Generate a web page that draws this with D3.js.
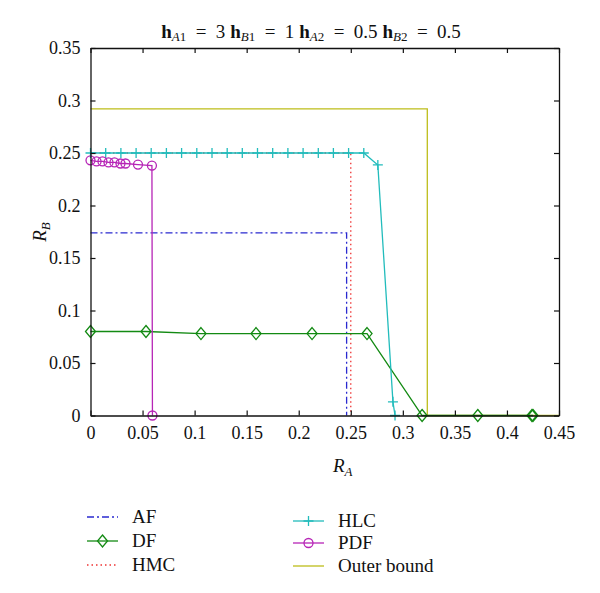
<!DOCTYPE html>
<html><head><meta charset="utf-8">
<script src="https://cdn.jsdelivr.net/npm/d3@7"></script>
<style>body{margin:0;background:#fff}svg text{font-family:"Liberation Serif","DejaVu Serif",serif !important;fill:#111}</style>
</head><body><svg id="c" width="600" height="593"></svg>
<script>
const xTicks=[0,0.05,0.1,0.15,0.2,0.25,0.3,0.35,0.4,0.45];
const yTicks=[0,0.05,0.1,0.15,0.2,0.25,0.3,0.35];
const xTickLabels=["0","0.05","0.1","0.15","0.2","0.25","0.3","0.35","0.4","0.45"];
const yTickLabels=["0","0.05","0.1","0.15","0.2","0.25","0.3","0.35"];
const afX=[0,0.246,0.246], afY=[0.174,0.174,0];
const dfX=[0,0.0533,0.1061,0.159,0.2128,0.2656,0.3185,0.372,0.424,0.425];
const dfY=[0.080,0.080,0.078,0.078,0.078,0.078,0,0,0,0];
const hmcX=[0,0.25,0.25], hmcY=[0.25,0.25,0];
const hlcX=[0,0.0146,0.0292,0.0438,0.0583,0.0729,0.0875,0.1021,0.1167,0.1313,0.1458,0.1604,0.175,0.1896,0.2042,0.2188,0.2333,0.2479,0.2625,0.276,0.2905,0.2925];
const hlcY=[0.25,0.25,0.25,0.25,0.25,0.25,0.25,0.25,0.25,0.25,0.25,0.25,0.25,0.25,0.25,0.25,0.25,0.25,0.25,0.2386,0.013,0];
const pdfX=[0,0.0058,0.0115,0.0173,0.023,0.0288,0.0336,0.0456,0.059,0.0595];
const pdfY=[0.243,0.242,0.242,0.241,0.241,0.240,0.240,0.239,0.238,0];
const obX=[0,0.3235,0.3235,0.45], obY=[0.292,0.292,0,0];

const svg=d3.select("#c");
const L=90.5,R=559,T=48,B=415.5;
const x=d3.scaleLinear().domain([0,0.45]).range([L,R]);
const y=d3.scaleLinear().domain([0,0.35]).range([B,T]);
const zip=(a,b)=>a.map((v,i)=>[v,b[i]]);
const line=d3.line().x(d=>x(d[0])).y(d=>y(d[1]));

const series=[
 {name:"Outer bound",X:obX,Y:obY,color:"#bdbd1a",dash:null,marker:null},
 {name:"AF",X:afX,Y:afY,color:"#2a2ad0",dash:"7,3,2,3",marker:null},
 {name:"HMC",X:hmcX,Y:hmcY,color:"#ee3333",dash:"1.5,3",marker:null},
 {name:"DF",X:dfX,Y:dfY,color:"#138a13",dash:null,marker:"diamond"},
 {name:"HLC",X:hlcX,Y:hlcY,color:"#22bcbc",dash:null,marker:"plus"},
 {name:"PDF",X:pdfX,Y:pdfY,color:"#b625b6",dash:null,marker:"circle"}
];

function drawMarker(g,type,cx,cy,color){
  if(type==="diamond") g.append("path").attr("d",`M${cx},${cy-6}L${cx+5},${cy}L${cx},${cy+6}L${cx-5},${cy}Z`).attr("fill","none").attr("stroke",color).attr("stroke-width",1.3);
  else if(type==="plus") g.append("path").attr("d",`M${cx-5},${cy}H${cx+5}M${cx},${cy-5}V${cy+5}`).attr("stroke",color).attr("stroke-width",1.3);
  else if(type==="circle") g.append("circle").attr("cx",cx).attr("cy",cy).attr("r",4.5).attr("fill","none").attr("stroke",color).attr("stroke-width",1.3);
}

const plot=svg.append("g");
series.forEach(s=>{
  const pts=zip(s.X,s.Y);
  plot.append("path").attr("d",line(pts)).attr("fill","none").attr("stroke",s.color).attr("stroke-width",1.3).attr("stroke-dasharray",s.dash);
  if(s.marker) pts.forEach(p=>drawMarker(plot,s.marker,x(p[0]),y(p[1]),s.color));
});

// axes
const ax=svg.append("g");
ax.append("g").attr("transform",`translate(0,${B})`).call(d3.axisBottom(x).tickValues(xTicks).tickFormat((d,i)=>xTickLabels[i]).tickSizeInner(-5).tickSizeOuter(0).tickPadding(11));
ax.append("g").attr("transform",`translate(0,${T})`).call(d3.axisTop(x).tickValues(xTicks).tickFormat("").tickSizeInner(-5).tickSizeOuter(0));
ax.append("g").attr("transform",`translate(${L},0)`).call(d3.axisLeft(y).tickValues(yTicks).tickFormat((d,i)=>yTickLabels[i]).tickSizeInner(-5).tickSizeOuter(0).tickPadding(10));
ax.append("g").attr("transform",`translate(${R},0)`).call(d3.axisRight(y).tickValues(yTicks).tickFormat("").tickSizeInner(-5).tickSizeOuter(0));
ax.selectAll("g").attr("font-family","Liberation Serif, serif").attr("font-size",18);
ax.selectAll(".domain").attr("stroke","#111").attr("stroke-width",1.3);
ax.selectAll(".tick line").attr("stroke","#111").attr("stroke-width",1.2);
ax.selectAll(".tick text").style("font-size","18px").attr("fill","#111");

// axis labels
const xl=svg.append("text").attr("x",333).attr("y",472).style("font-size","19px").attr("font-style","italic");
xl.append("tspan").text("R");
xl.append("tspan").style("font-size","13px").attr("dy",4).text("A");
const yl=svg.append("text").attr("transform","translate(46,232) rotate(-90)").style("font-size","19px").attr("font-style","italic").attr("text-anchor","middle");
yl.append("tspan").text("R");
yl.append("tspan").style("font-size","13px").attr("dy",4).text("B");

// title
const t=svg.append("text").attr("x",311).attr("y",38).style("font-size","19px").attr("text-anchor","middle");
const parts=[["A1"," = 3 "],["B1"," = 1 "],["A2"," = 0.5 "],["B2"," = 0.5"]];
parts.forEach(p=>{
  t.append("tspan").attr("font-weight","bold").text("h");
  t.append("tspan").attr("font-style","italic").style("font-size","13px").attr("dy",3).text(p[0][0]);
  t.append("tspan").style("font-size","13px").text(p[0].slice(1));
  t.append("tspan").attr("dy",-3).text(p[1].replace(/ = /g,"\u2002=\u2002"));
});

// legend
const legendPos={"AF":[87,517],"DF":[87,541],"HMC":[87,565],"HLC":[293,521],"PDF":[293,543],"Outer bound":[293,566]};
series.forEach(s=>{
  const [lx,ly]=legendPos[s.name];
  const g=svg.append("g");
  g.append("line").attr("x1",lx).attr("x2",lx+31).attr("y1",ly).attr("y2",ly).attr("stroke",s.color).attr("stroke-width",1.3).attr("stroke-dasharray",s.dash);
  if(s.marker) drawMarker(g,s.marker,lx+15.5,ly,s.color);
  g.append("text").attr("x",lx+45).attr("y",ly+6).style("font-size","19px").text(s.name);
});
</script></body></html>
